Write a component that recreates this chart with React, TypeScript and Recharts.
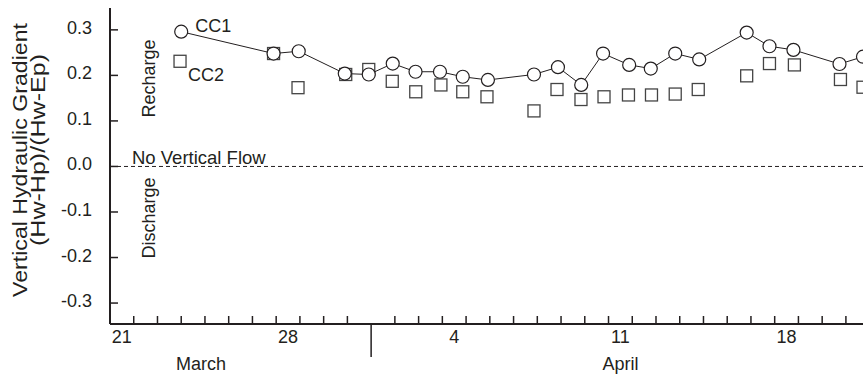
import React from 'react';
import {
  ComposedChart,
  Scatter,
  XAxis,
  YAxis,
  ReferenceLine,
  ReferenceDot,
} from 'recharts';

// days counted from the start of 21 March
const cc1Day = [3.0, 6.89, 7.95, 9.89, 10.9, 11.91, 12.87, 13.9, 14.86, 15.92, 17.86, 18.87, 19.85, 20.77, 21.87, 22.78, 23.81, 24.82, 26.82, 27.78, 28.79, 30.73, 31.72];
const cc1Value = [0.296, 0.248, 0.253, 0.204, 0.202, 0.226, 0.208, 0.208, 0.197, 0.19, 0.202, 0.218, 0.179, 0.248, 0.223, 0.215, 0.248, 0.235, 0.294, 0.264, 0.256, 0.225, 0.241];

const cc2Day = [2.95, 6.89, 7.92, 9.93, 10.9, 11.89, 12.88, 13.94, 14.86, 15.88, 17.86, 18.83, 19.84, 20.81, 21.84, 22.81, 23.81, 24.78, 26.82, 27.78, 28.83, 30.77, 31.72];
const cc2Value = [0.231, 0.248, 0.173, 0.202, 0.213, 0.187, 0.164, 0.179, 0.164, 0.153, 0.122, 0.169, 0.147, 0.153, 0.157, 0.157, 0.159, 0.169, 0.199, 0.226, 0.223, 0.191, 0.174];

const dayLabels = ['21', '28', '4', '11', '18'];
const dayLabelPos = [0.5, 7.5, 14.5, 21.5, 28.5];
const monthLabels = ['March', 'April'];
const monthLabelPos = [3.83, 21.5];
const monthBoundary = 11;
const yTicks = [-0.3, -0.2, -0.1, 0, 0.1, 0.2, 0.3];

const cc1 = cc1Day.map((d, i) => ({ day: d, value: cc1Value[i] }));
const cc2 = cc2Day.map((d, i) => ({ day: d, value: cc2Value[i] }));

const dayTicks = Array.from({ length: 31 }, (_, i) => i + 1);
const xTicks = Array.from(new Set([...dayTicks, ...dayLabelPos, ...monthLabelPos])).sort((a, b) => a - b);

const INK = '#231f20';
const FONT = '"Liberation Sans", Arial, Helvetica, sans-serif';

const XTick = (props: any) => {
  const { x, y, payload } = props;
  const v = payload.value;
  const li = dayLabelPos.indexOf(v);
  const mi = monthLabelPos.indexOf(v);
  return (
    <g>
      {dayTicks.includes(v) && (
        <line x1={x} x2={x} y1={y} y2={v === monthBoundary ? y + 33 : y - 8} stroke={INK} strokeWidth={1.5} />
      )}
      {li >= 0 && (
        <text x={x} y={y + 19} textAnchor="middle" fontSize={18} fill={INK} fontFamily={FONT}>
          {dayLabels[li]}
        </text>
      )}
      {mi >= 0 && (
        <text x={x} y={y + 46} textAnchor="middle" fontSize={18} fill={INK} fontFamily={FONT}>
          {monthLabels[mi]}
        </text>
      )}
    </g>
  );
};

const YTick = (props: any) => {
  const { x, y, payload } = props;
  return (
    <g>
      <line x1={x} x2={x + 8} y1={y} y2={y} stroke={INK} strokeWidth={1.5} />
      <text x={x - 18} y={y + 4} textAnchor="end" fontSize={18} fill={INK} fontFamily={FONT}>
        {Number(payload.value).toFixed(1)}
      </text>
    </g>
  );
};

const YTitle = (props: any) => {
  const vb = props.viewBox || { x: 0, y: 8, width: 110, height: 316 };
  const x1 = vb.x + 27;
  const y1 = vb.y + 152;
  const x2 = vb.x + 45;
  const y2 = vb.y + 142;
  return (
    <g fontFamily={FONT} fontSize={20} fill={INK}>
      <text
        x={x1}
        y={y1}
        textAnchor="middle"
        textLength={274}
        lengthAdjust="spacingAndGlyphs"
        transform={`rotate(-90 ${x1} ${y1})`}
      >
        Vertical Hydraulic Gradient
      </text>
      <text
        x={x2}
        y={y2}
        textAnchor="middle"
        textLength={192}
        lengthAdjust="spacingAndGlyphs"
        transform={`rotate(-90 ${x2} ${y2})`}
      >
        (Hw-Hp)/(Hw-Ep)
      </text>
    </g>
  );
};

const Circle = (p: any) => (
  <circle cx={p.cx} cy={p.cy} r={6.5} fill="#fff" stroke={INK} strokeWidth={1.2} />
);

const Square = (p: any) => (
  <rect x={p.cx - 6} y={p.cy - 6} width={12} height={12} fill="#fff" stroke="#444" strokeWidth={1.3} />
);

const rotatedText = (label: string) => (p: any) => (
  <text
    x={p.cx}
    y={p.cy}
    textAnchor="middle"
    transform={`rotate(-90 ${p.cx} ${p.cy})`}
    fontSize={18}
    fill={INK}
    fontFamily={FONT}
  >
    {label}
  </text>
);

const sideText = (label: string, dx: number, dy: number) => (p: any) => (
  <text x={p.cx + dx} y={p.cy + dy} fontSize={18} fill={INK} fontFamily={FONT}>
    {label}
  </text>
);

export default function App() {
  return (
    <div style={{ width: 863, height: 375, background: '#fff' }}>
      <style>{'body{margin:0}'}</style>
      <ComposedChart width={863} height={375} margin={{ top: 8, right: 0, bottom: 0, left: 0 }}>
        <XAxis
          dataKey="day"
          type="number"
          domain={[0, 31.72]}
          allowDataOverflow
          ticks={xTicks}
          interval={0}
          tick={<XTick />}
          tickLine={false}
          tickSize={0}
          tickMargin={0}
          height={51}
          axisLine={{ stroke: INK, strokeWidth: 2 }}
        />
        <XAxis
          xAxisId="top"
          orientation="top"
          type="number"
          domain={[0, 31.72]}
          allowDataOverflow
          tick={false}
          tickLine={false}
          height={0}
          axisLine={{ stroke: INK, strokeWidth: 2 }}
        />
        <YAxis
          dataKey="value"
          type="number"
          domain={[-0.346, 0.348]}
          allowDataOverflow
          ticks={yTicks}
          interval={0}
          tick={<YTick />}
          tickLine={false}
          tickSize={0}
          tickMargin={0}
          width={110}
          axisLine={{ stroke: INK, strokeWidth: 2 }}
          label={YTitle}
        />
        <ReferenceLine
          y={0}
          stroke={INK}
          strokeWidth={1}
          strokeDasharray="4 3"
          label={(p: any) => (
            <text x={p.viewBox.x + 22} y={p.viewBox.y - 2} fontSize={18.5} fill={INK} fontFamily={FONT}>
              No Vertical Flow
            </text>
          )}
        />
        <ReferenceDot x={1.9} y={0.193} r={0} shape={rotatedText('Recharge')} />
        <ReferenceDot x={1.9} y={-0.113} r={0} shape={rotatedText('Discharge')} />
        <Scatter data={cc2} shape={Square} isAnimationActive={false} />
        <Scatter
          data={cc1}
          shape={Circle}
          line={{ stroke: INK, strokeWidth: 1 }}
          lineType="joint"
          isAnimationActive={false}
        />
        <ReferenceDot x={cc1Day[0]} y={cc1Value[0]} r={0} shape={sideText('CC1', 14, 0)} />
        <ReferenceDot x={cc2Day[0]} y={cc2Value[0]} r={0} shape={sideText('CC2', 8, 20)} />
      </ComposedChart>
    </div>
  );
}
